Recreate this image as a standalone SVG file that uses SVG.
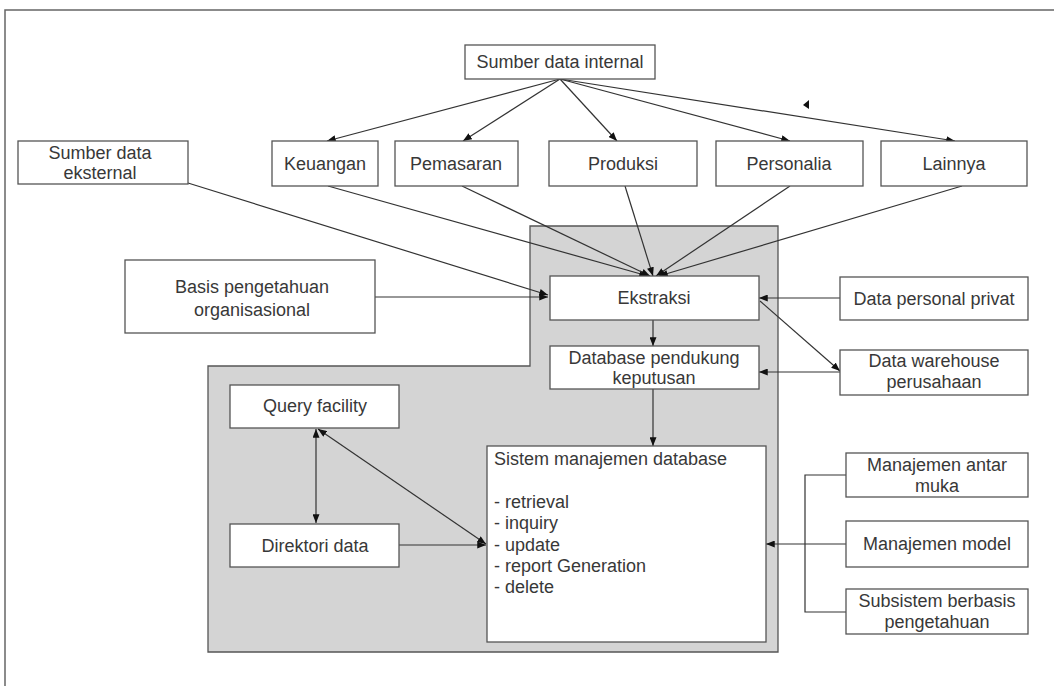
<svg xmlns="http://www.w3.org/2000/svg" width="1054" height="686" viewBox="0 0 1054 686">
  <style>
    .box { fill: #ffffff; stroke: #555555; stroke-width: 1.3; }
    .lbl { font-family: "Liberation Sans", Arial, sans-serif; font-size: 18px; fill: #383838; text-anchor: middle; }
    .lft { font-family: "Liberation Sans", Arial, sans-serif; font-size: 18px; fill: #383838; }
    .con { fill: none; stroke: #333333; stroke-width: 1.2; }
  </style>
  <defs>
    <marker id="arrow" viewBox="0 0 10 8" refX="10" refY="4" markerWidth="9" markerHeight="7" markerUnits="userSpaceOnUse" orient="auto-start-reverse">
      <path d="M0,0 L10,4 L0,8 z" fill="#111111"/>
    </marker>
  </defs>

  <rect width="1054" height="686" fill="#ffffff"/>
  <!-- page frame -->
  <rect x="5" y="10" width="1070" height="700" fill="none" stroke="#666666" stroke-width="1.5"/>

  <!-- shaded area holding the core database components -->
  <polygon points="530,226 778,226 778,652 208,652 208,366 530,366" fill="#d4d4d4" stroke="#555555" stroke-width="1.3"/>

  <g id="connectors">
    <!-- internal source to departments -->
    <line class="con" x1="560" y1="79" x2="327" y2="141" marker-end="url(#arrow)"/>
    <line class="con" x1="560" y1="79" x2="463" y2="141" marker-end="url(#arrow)"/>
    <line class="con" x1="560" y1="79" x2="617" y2="141" marker-end="url(#arrow)"/>
    <line class="con" x1="560" y1="79" x2="790" y2="141" marker-end="url(#arrow)"/>
    <line class="con" x1="560" y1="79" x2="955" y2="141" marker-end="url(#arrow)"/>
    <polygon points="803,105 809,100 809,109" fill="#111111"/>
    <!-- departments to extraction -->
    <line class="con" x1="328" y1="186" x2="648" y2="276" marker-end="url(#arrow)"/>
    <line class="con" x1="462" y1="186" x2="650" y2="276" marker-end="url(#arrow)"/>
    <line class="con" x1="625" y1="186" x2="653" y2="276" marker-end="url(#arrow)"/>
    <line class="con" x1="790" y1="186" x2="656" y2="276" marker-end="url(#arrow)"/>
    <line class="con" x1="962" y1="186" x2="659" y2="276" marker-end="url(#arrow)"/>
    <!-- external, knowledge base and private data to extraction -->
    <line class="con" x1="188" y1="183" x2="548" y2="295" marker-end="url(#arrow)"/>
    <line class="con" x1="375" y1="297" x2="548" y2="297" marker-end="url(#arrow)"/>
    <line class="con" x1="840" y1="298" x2="759" y2="298" marker-end="url(#arrow)"/>
    <!-- extraction to warehouse, warehouse to decision database -->
    <line class="con" x1="760" y1="301" x2="840" y2="371" marker-end="url(#arrow)"/>
    <line class="con" x1="840" y1="372" x2="759" y2="372" marker-end="url(#arrow)"/>
    <!-- vertical chain -->
    <line class="con" x1="653" y1="320" x2="653" y2="346" marker-end="url(#arrow)"/>
    <line class="con" x1="653" y1="389" x2="653" y2="446" marker-end="url(#arrow)"/>
    <!-- query facility links -->
    <line class="con" x1="316" y1="429" x2="316" y2="523" marker-start="url(#arrow)" marker-end="url(#arrow)"/>
    <line class="con" x1="318" y1="429" x2="486" y2="544" marker-start="url(#arrow)" marker-end="url(#arrow)"/>
    <line class="con" x1="399" y1="545" x2="486" y2="545" marker-end="url(#arrow)"/>
    <!-- management subsystems bracket -->
    <polyline class="con" points="846,475 805,475 805,612 846,612"/>
    <line class="con" x1="846" y1="544" x2="766" y2="544" marker-end="url(#arrow)"/>
  </g>

  <g id="sumber-internal">
    <rect class="box" x="465" y="45" width="190" height="34"/>
    <text class="lbl" x="560" y="68">Sumber data internal</text>
  </g>
  <g id="keuangan">
    <rect class="box" x="272" y="141" width="106" height="45"/>
    <text class="lbl" x="325" y="170">Keuangan</text>
  </g>
  <g id="pemasaran">
    <rect class="box" x="395" y="141" width="123" height="45"/>
    <text class="lbl" x="456" y="170">Pemasaran</text>
  </g>
  <g id="produksi">
    <rect class="box" x="549" y="141" width="148" height="45"/>
    <text class="lbl" x="623" y="170">Produksi</text>
  </g>
  <g id="personalia">
    <rect class="box" x="716" y="141" width="147" height="45"/>
    <text class="lbl" x="789" y="170">Personalia</text>
  </g>
  <g id="lainnya">
    <rect class="box" x="881" y="141" width="146" height="45"/>
    <text class="lbl" x="954" y="170">Lainnya</text>
  </g>
  <g id="sumber-eksternal">
    <rect class="box" x="18" y="141" width="170" height="43"/>
    <text class="lbl" x="100" y="159">Sumber data</text>
    <text class="lbl" x="100" y="179">eksternal</text>
  </g>
  <g id="basis-pengetahuan">
    <rect class="box" x="125" y="260" width="250" height="73"/>
    <text class="lbl" x="252" y="293">Basis pengetahuan</text>
    <text class="lbl" x="252" y="316">organisasional</text>
  </g>
  <g id="ekstraksi">
    <rect class="box" x="550" y="276" width="209" height="44"/>
    <text class="lbl" x="654" y="304">Ekstraksi</text>
  </g>
  <g id="database-pendukung">
    <rect class="box" x="550" y="346" width="209" height="43"/>
    <text class="lbl" x="654" y="364">Database pendukung</text>
    <text class="lbl" x="654" y="384">keputusan</text>
  </g>
  <g id="data-personal">
    <rect class="box" x="840" y="277" width="188" height="43"/>
    <text class="lbl" x="934" y="305">Data personal privat</text>
  </g>
  <g id="data-warehouse">
    <rect class="box" x="840" y="350" width="188" height="45"/>
    <text class="lbl" x="934" y="367">Data warehouse</text>
    <text class="lbl" x="934" y="388">perusahaan</text>
  </g>
  <g id="query-facility">
    <rect class="box" x="230" y="385" width="169" height="43"/>
    <text class="lbl" x="315" y="412">Query facility</text>
  </g>
  <g id="direktori-data">
    <rect class="box" x="230" y="524" width="169" height="43"/>
    <text class="lbl" x="315" y="552">Direktori data</text>
  </g>
  <g id="sistem-manajemen">
    <rect class="box" x="487" y="446" width="279" height="196"/>
    <text class="lft" x="494" y="465">Sistem manajemen database</text>
    <text class="lft" x="494" y="508">- retrieval</text>
    <text class="lft" x="494" y="529">- inquiry</text>
    <text class="lft" x="494" y="551">- update</text>
    <text class="lft" x="494" y="572">- report Generation</text>
    <text class="lft" x="494" y="593">- delete</text>
  </g>
  <g id="manajemen-antarmuka">
    <rect class="box" x="846" y="453" width="182" height="44"/>
    <text class="lbl" x="937" y="471">Manajemen antar</text>
    <text class="lbl" x="937" y="492">muka</text>
  </g>
  <g id="manajemen-model">
    <rect class="box" x="846" y="521" width="182" height="46"/>
    <text class="lbl" x="937" y="550">Manajemen model</text>
  </g>
  <g id="subsistem-pengetahuan">
    <rect class="box" x="846" y="589" width="182" height="45"/>
    <text class="lbl" x="937" y="607">Subsistem berbasis</text>
    <text class="lbl" x="937" y="628">pengetahuan</text>
  </g>
</svg>
